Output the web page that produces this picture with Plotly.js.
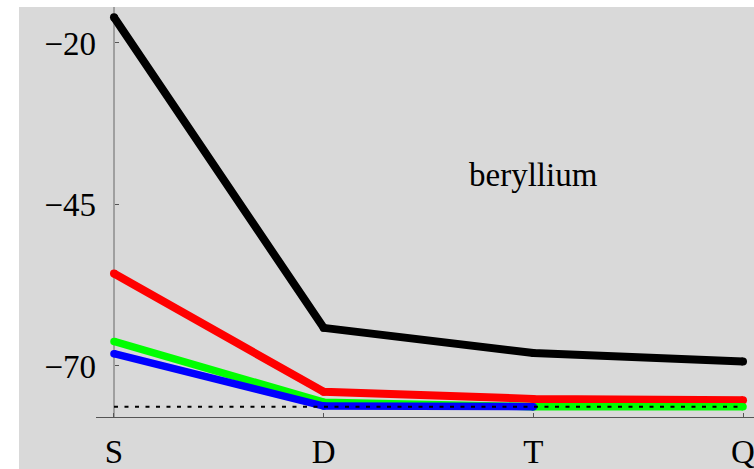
<!DOCTYPE html>
<html>
<head>
<meta charset="utf-8">
<script src="https://cdn.plot.ly/plotly-3.0.1.min.js"></script>
<style>
  html, body { margin: 0; padding: 0; background: #ffffff; }
  #chart { width: 754px; height: 469px; }
</style>
</head>
<body>
<div id="chart"></div>
<script>
// Basis-set levels along the x axis
const basis = ['S', 'D', 'T', 'Q'];

// Energies for each method (beryllium)
const blackVals = [-16.0, -64.1, -68.0, -69.3];
const redVals   = [-55.7, -74.0, -75.1, -75.3];
const greenVals = [-66.2, -75.6, -76.3, -76.3];
const blueVals  = [-68.1, -76.2, -76.3];

// Reference (exact) value drawn as a dotted line
const refValue = -76.3;
const refSpan = ['S', 'Q'];

// Tick values on the energy axis
const yTicks = [-20, -45, -70];
const yTickText = ['\u221220', '\u221245', '\u221270'];

const serif = 'Liberation Serif, Times New Roman, serif';
const fontSize = 33;
const yAxisPos = 95 / 735;

function series(vals, color, w) {
  return {
    x: basis.slice(0, vals.length),
    y: vals,
    type: 'scatter',
    mode: 'lines+markers',
    line: { color: color, width: w },
    marker: { color: color, size: w },
    hoverinfo: 'skip',
    showlegend: false,
    cliponaxis: false
  };
}

const traces = [
  series(blackVals, '#000000', 8),
  series(redVals, '#ff0000', 8),
  series(greenVals, '#00ff00', 7.5),
  series(blueVals, '#0000ff', 7.5),
  {
    x: refSpan,
    y: [refValue, refValue],
    type: 'scatter',
    mode: 'lines',
    line: { color: '#000000', width: 2, dash: '4px,6.5px' },
    hoverinfo: 'skip',
    showlegend: false
  }
];

const layout = {
  width: 754,
  height: 469,
  margin: { l: 19, r: 0, t: 7, b: 0, pad: 0 },
  paper_bgcolor: '#d9d9d9',
  plot_bgcolor: 'rgba(0,0,0,0)',
  showlegend: false,
  xaxis: {
    type: 'category',
    categoryorder: 'array',
    categoryarray: basis,
    domain: [77 / 735, 1],
    anchor: 'y',
    range: [-0.0858, 3.0524],
    showgrid: false,
    zeroline: false,
    showline: true,
    linecolor: '#555555',
    linewidth: 1,
    ticks: 'inside',
    ticklen: 4,
    tickcolor: '#555555',
    tickwidth: 1,
    ticklabelstandoff: 5,
    tickfont: { family: serif, size: fontSize, color: '#000000' },
    fixedrange: true
  },
  yaxis: {
    domain: [52 / 462, 1],
    anchor: 'free',
    position: yAxisPos,
    range: [-77.9, -14.43],
    showgrid: false,
    zeroline: false,
    showline: false,
    ticks: 'inside',
    ticklen: 4,
    tickcolor: '#555555',
    tickwidth: 1,
    tickvals: yTicks,
    ticktext: yTickText,
    ticklabelstandoff: 18,
    tickfont: { family: serif, size: fontSize, color: '#000000' },
    fixedrange: true
  },
  shapes: [
    // white margin strips to the left and above the grey panel
    { type: 'rect', xref: 'paper', yref: 'paper', x0: -19 / 735, x1: 0, y0: -0.01, y1: 1 + 7 / 462,
      fillcolor: '#ffffff', line: { width: 0 }, layer: 'below' },
    { type: 'rect', xref: 'paper', yref: 'paper', x0: -19 / 735, x1: 1.01, y0: 1, y1: 1 + 7 / 462,
      fillcolor: '#ffffff', line: { width: 0 }, layer: 'below' },
    // vertical energy axis line, stopping at the basis axis
    { type: 'line', xref: 'paper', yref: 'y domain', x0: yAxisPos, x1: yAxisPos, y0: 0, y1: 1,
      line: { color: '#666666', width: 1 }, layer: 'below' }
  ],
  annotations: [
    {
      x: 'T', y: -40.4, xref: 'x', yref: 'y',
      text: 'beryllium',
      showarrow: false,
      xanchor: 'center', yanchor: 'middle',
      font: { family: serif, size: fontSize, color: '#000000' }
    }
  ]
};

Plotly.newPlot('chart', traces, layout, { staticPlot: true, displayModeBar: false });
</script>
</body>
</html>
